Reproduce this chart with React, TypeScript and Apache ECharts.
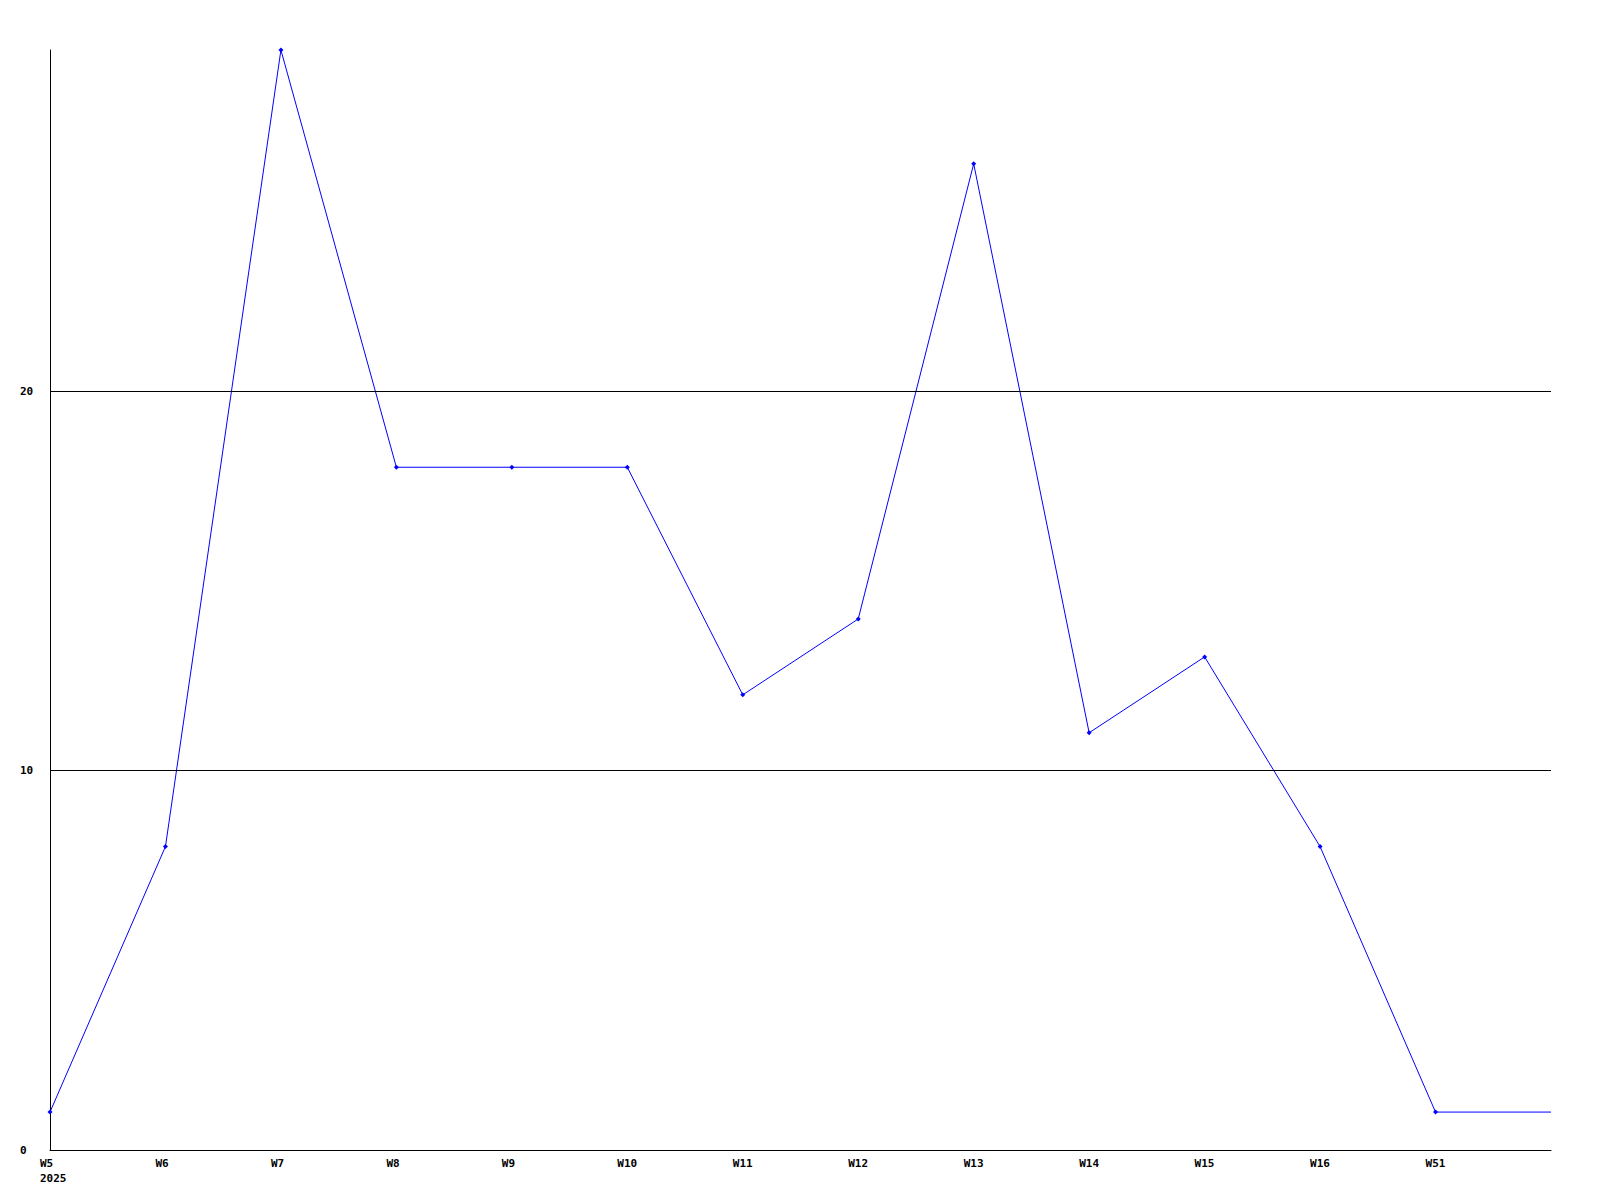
import React, { useEffect, useRef } from "react";
import * as echarts from "echarts";

const categories = ["W5", "W6", "W7", "W8", "W9", "W10", "W11", "W12", "W13", "W14", "W15", "W16", "W51", ""];
const values = [1, 8, 29, 18, 18, 18, 12, 14, 26, 11, 13, 8, 1, 1];
const yearLabel = "2025";
const gridValues = [10, 20];

export default function App() {
  const ref = useRef<HTMLDivElement>(null);
  useEffect(() => {
    if (!ref.current) return;
    const chart = echarts.init(ref.current, null, { renderer: "svg" });
    const font = "DejaVu Sans Mono";
    chart.setOption({
      animation: false,
      backgroundColor: "#ffffff",
      grid: { left: 50, right: 49, top: 50, bottom: 50, containLabel: false },
      xAxis: {
        type: "category",
        data: categories,
        boundaryGap: false,
        axisLine: { show: true, lineStyle: { color: "#000", width: 1 } },
        axisTick: { show: false },
        splitLine: { show: false },
        axisLabel: {
          interval: 0,
          margin: 6,
          align: "left",
          padding: [0, 0, 0, -10],
          fontFamily: font,
          fontWeight: "bold",
          fontSize: 11,
          lineHeight: 15,
          color: "#000",
          formatter: (v: string, i: number) => (i === 0 ? v + "\n" + yearLabel : v),
        },
      },
      yAxis: {
        type: "value",
        min: 0,
        max: 29,
        interval: 10,
        axisLine: { show: true, lineStyle: { color: "#000", width: 1 } },
        axisTick: { show: false },
        splitLine: { show: false },
        axisLabel: {
          margin: 30,
          align: "left",
          fontFamily: font,
          fontWeight: "bold",
          fontSize: 11,
          color: "#000",
          formatter: (v: number) => (v % 10 === 0 ? String(v) : ""),
        },
      },
      series: [
        {
          type: "line",
          data: values.map((v, i) =>
            i === values.length - 1 ? { value: v, symbol: "none" } : v
          ),
          symbol: "diamond",
          symbolSize: 5,
          lineStyle: { color: "#0000ff", width: 1 },
          itemStyle: { color: "#0000ff" },
          markLine: {
            silent: true,
            symbol: "none",
            label: { show: false },
            lineStyle: { color: "#000", width: 1, type: "solid" },
            data: gridValues.map((g) => ({ yAxis: g })),
          },
          z: 3,
        },
      ],
    });
    return () => chart.dispose();
  }, []);
  return (
    <div
      ref={ref}
      style={{ position: "fixed", left: 0, top: 0, width: 1600, height: 1200, background: "#fff" }}
    />
  );
}
